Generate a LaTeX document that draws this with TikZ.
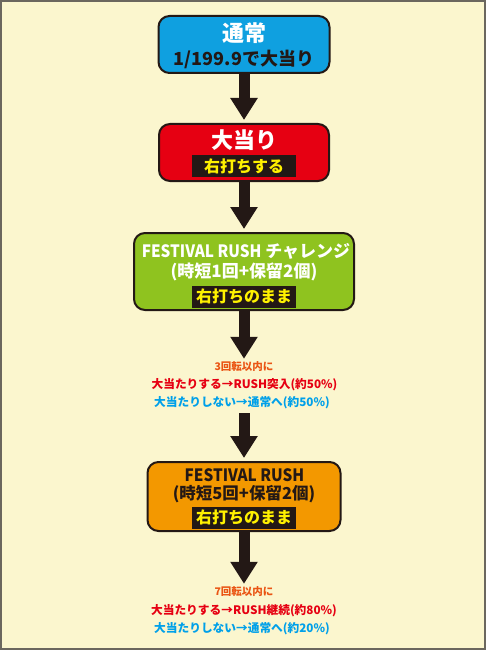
\documentclass[tikz,border=0pt]{standalone}
\usepackage{fontspec}
\setmainfont{Noto Sans CJK JP}
\usetikzlibrary{arrows.meta,positioning}
\definecolor{ink}{HTML}{231815}
\definecolor{paper}{HTML}{FBF6CE}
\definecolor{frame}{HTML}{6B675E}
\definecolor{normalblue}{HTML}{0FA0E0}
\definecolor{hitred}{HTML}{E60012}
\definecolor{chalgreen}{HTML}{8FC31F}
\definecolor{rushorange}{HTML}{F39800}
\definecolor{bandyellow}{HTML}{FFF100}
\definecolor{notered}{HTML}{EA5514}
\definecolor{noteblue}{HTML}{00A0E9}
\newcommand{\fs}[1]{\fontsize{#1}{#1}\selectfont}
\newcommand{\cond}[1]{\scalebox{0.9}[1]{#1}}

\begin{document}
\begin{tikzpicture}[x=1pt,y=-1pt,font=\bfseries,
  every node/.style={inner sep=0pt},
  stage/.style={draw=ink, line width=2pt, rounded corners=11pt},
  band/.style={fill=ink, text=bandyellow, minimum width=104pt, minimum height=22pt, font=\bfseries\fs{16}},
  note/.style={font=\bfseries\fs{11.7}},
  flow/.style={draw=ink, line width=11pt, -{Triangle[width=26pt,length=22pt]}, shorten >=3pt}]
 \fill[paper] (0,0) rectangle (486,650);
 \draw[frame, line width=2pt] (1,1) rectangle (485,649);
 \useasboundingbox (0,0) rectangle (486,650);

 % boxes
 \node[stage, fill=normalblue, minimum width=171pt, minimum height=57pt] (normal) at (244,44.5) {};
 \node[stage, fill=hitred, minimum width=170pt, minimum height=57pt] (hit) at (244,152.5) {};
 \node[stage, fill=chalgreen, minimum width=220pt, minimum height=77pt] (chal) at (244,271.5) {};
 \node[stage, fill=rushorange, minimum width=193pt, minimum height=69pt] (rush) at (244,496.5) {};

 % box texts
 \node[text=white, font=\bfseries\fs{22}] (normaltitle) at (244,33) {通常};
 \node[text=ink, font=\bfseries\fs{18}] (normalprob) at (244,59) {1/199.9で大当り};
 \node[text=white, font=\bfseries\fs{22}] (hittitle) at (244,140) {大当り};
 \node[band] (hitband) at (244,166) {右打ちする};
 \node[text=white, font=\bfseries\fs{17}] (chaltitle) at (246,251) {\cond{FESTIVAL RUSH} チャレンジ};
 \node[text=white, font=\bfseries\fs{17}] (chalspec) at (244,272) {(時短1回+保留2個)};
 \node[band] (chalband) at (244,296.5) {右打ちのまま};
 \node[text=ink, font=\bfseries\fs{17}] (rushtitle) at (244.5,475) {\cond{FESTIVAL RUSH}};
 \node[text=ink, font=\bfseries\fs{16.5}] (rushspec) at (244,494) {(時短5回+保留2個)};
 \node[band] (rushband) at (244,517.5) {右打ちのまま};

 % notes
 \node[note, text=notered, font=\bfseries\fs{10.5}] (chalspin) at (244,367) {3回転以内に};
 \node[note, text=hitred] (chalwin) at (244.5,385) {大当たりする→RUSH突入(約50\%)};
 \node[note, text=noteblue] (challose) at (242,403) {大当たりしない→通常へ(約50\%)};
 \node[note, text=notered, font=\bfseries\fs{10.5}] (rushspin) at (244,592) {7回転以内に};
 \node[note, text=hitred] (rushwin) at (244,611) {大当たりする→RUSH継続(約80\%)};
 \node[note, text=noteblue] (rushlose) at (242,629) {大当たりしない→通常へ(約20\%)};

 % arrows
 \draw[flow] (normal.south) -- (hit.north);
 \draw[flow] (hit.south) -- (chal.north);
 \draw[flow] (chal.south) -- (chalspin.north);
 \draw[flow, shorten <=4pt] (rush.north |- challose.south) -- (rush.north);
 \draw[flow] (rush.south) -- (rushspin.north);
\end{tikzpicture}
\end{document}
